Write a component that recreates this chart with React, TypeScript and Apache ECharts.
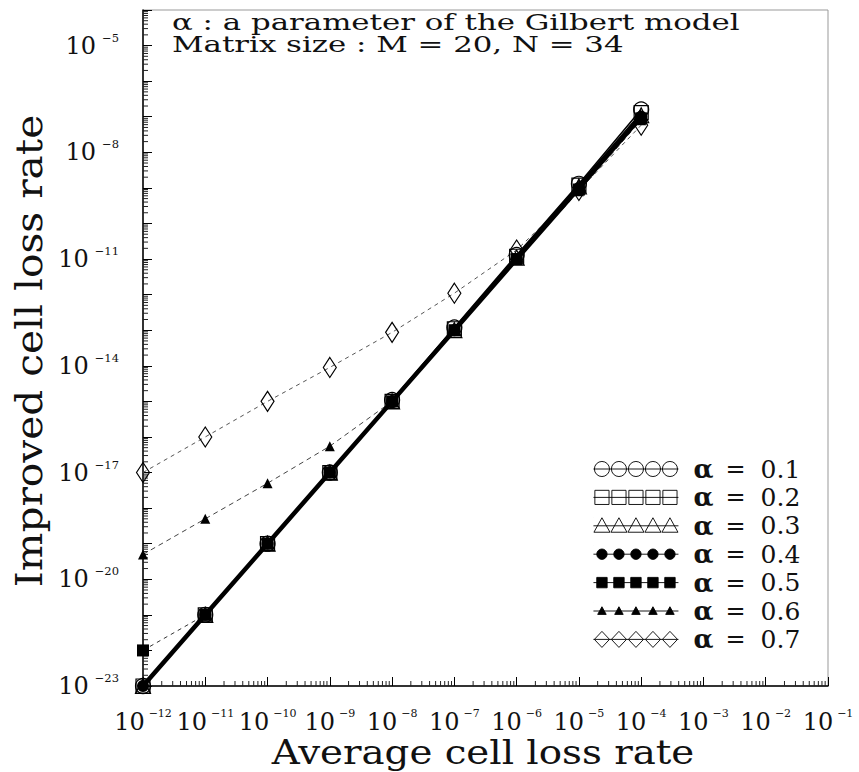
import React, { useEffect, useRef } from 'react';
import * as echarts from 'echarts';

// ---------- data ----------
const xValues = [1e-12, 1e-11, 1e-10, 1e-9, 1e-8, 1e-7, 1e-6, 1e-5, 1e-4];
const alpha01 = [1e-23, 1e-21, 1e-19, 1e-17, 1.1e-15, 1.2e-13, 1.3e-11, 1.3e-9, 1.6e-7];
const alpha02 = [1e-23, 1e-21, 1e-19, 1e-17, 1e-15, 1.1e-13, 1.2e-11, 1.2e-9, 1.3e-7];
const alpha03 = [1e-23, 1e-21, 1e-19, 1e-17, 1e-15, 1e-13, 1.1e-11, 1.1e-9, 1.1e-7];
const alpha04 = [1e-23, 1e-21, 1e-19, 1e-17, 1e-15, 1e-13, 1e-11, 1e-9, 1e-7];
const alpha05 = [1e-22, 1e-21, 1e-19, 1e-17, 1e-15, 1e-13, 1e-11, 9e-10, 9e-8];
const alpha06 = [5e-20, 5e-19, 5e-18, 5.5e-17, 1e-15, 1e-13, 1e-11, 8e-10, 8e-8];
const alpha07 = [1e-17, 1e-16, 1e-15, 9e-15, 8.7e-14, 1.1e-12, 1.8e-11, 8.5e-10, 5.8e-8];

const alphaLabels = ['0.1', '0.2', '0.3', '0.4', '0.5', '0.6', '0.7'];
const seriesValues = [alpha01, alpha02, alpha03, alpha04, alpha05, alpha06, alpha07];

// tick labels (powers of ten)
const yLabelExponents = [-23, -20, -17, -14, -11, -8, -5];
const xLabelExponents = [-12, -11, -10, -9, -8, -7, -6, -5, -4, -3, -2, -1];
const yDecadeRange = [-23, -4];
const xDecadeRange = [-12, -1];

const annotationLines = [
  'α : a parameter of the Gilbert model',
  'Matrix size : M = 20, N = 34',
];
const xTitle = 'Average cell loss rate';
const yTitle = 'Improved cell loss rate';

// ---------- styles ----------
const FONT = '"DejaVu Serif", serif';
const OPEN = 'rgba(255,255,255,0)';

type Sty = {
  symbol: string;
  size: number | number[];
  filled: boolean;
  lineWidth: number;
  lineType: any;
  lineColor: string;
  z: number;
};
const styles: Sty[] = [
  { symbol: 'circle', size: 15, filled: false, lineWidth: 1.5, lineType: 'solid', lineColor: '#000', z: 3 },
  { symbol: 'rect', size: 14, filled: false, lineWidth: 1.5, lineType: 'solid', lineColor: '#000', z: 3 },
  { symbol: 'triangle', size: 15, filled: false, lineWidth: 1.5, lineType: 'solid', lineColor: '#000', z: 3 },
  { symbol: 'circle', size: 12, filled: true, lineWidth: 4.5, lineType: 'solid', lineColor: '#000', z: 3 },
  { symbol: 'rect', size: 12, filled: true, lineWidth: 1, lineType: [4, 4], lineColor: '#333', z: 2 },
  { symbol: 'triangle', size: 10, filled: true, lineWidth: 1, lineType: [5, 4], lineColor: '#444', z: 2 },
  { symbol: 'diamond', size: [13, 20], filled: false, lineWidth: 1, lineType: [4, 4], lineColor: '#555', z: 2 },
];

// legend icons: five markers on a thin line, box 90 x 18
const centers = [9, 27, 45, 63, 81];
const anchor = 'M0 0 L0.01 0 M90 18 L89.99 18 ';
const line = 'M0 9 L90 9 ';
const circ = (r: number) =>
  centers.map((c) => `M${c - r} 9 A${r} ${r} 0 1 0 ${c + r} 9 A${r} ${r} 0 1 0 ${c - r} 9 Z`).join(' ');
const sq = (h: number) =>
  centers.map((c) => `M${c - h} ${9 - h} L${c + h} ${9 - h} L${c + h} ${9 + h} L${c - h} ${9 + h} Z`).join(' ');
const tri = (h: number) =>
  centers.map((c) => `M${c} ${9 - h} L${c + h} ${9 + h * 0.8} L${c - h} ${9 + h * 0.8} Z`).join(' ');
const dia = () =>
  centers.map((c) => `M${c} 0.5 L${c + 8} 9 L${c} 17.5 L${c - 8} 9 Z`).join(' ');
const legendIcons = [
  'path://' + anchor + circ(8) + ' ' + line,
  'path://' + anchor + sq(7.5) + ' ' + line,
  'path://' + anchor + tri(8.5) + ' ' + line,
  'path://' + anchor + circ(5.5) + ' ' + line,
  'path://' + anchor + sq(5.5) + ' ' + line,
  'path://' + anchor + tri(4.5) + ' ' + line,
  'path://' + anchor + dia() + ' ' + line,
];

const decades = (r: number[]) => {
  const out: number[] = [];
  for (let e = r[0]; e <= r[1]; e++) out.push(Math.pow(10, e));
  return out;
};

export default function App() {
  const ref = useRef<HTMLDivElement>(null);

  useEffect(() => {
    if (!ref.current) return;
    const chart = echarts.init(ref.current, null, { renderer: 'svg' });

    const names = alphaLabels.map((a) => `α = ${a}`);

    const mainSeries = seriesValues.map((vals, i) => {
      const s = styles[i];
      return {
        name: names[i],
        type: 'line',
        data: xValues.map((x, j) => [x, vals[j]]),
        symbol: s.symbol,
        symbolSize: s.size,
        showSymbol: true,
        clip: false,
        z: s.z,
        lineStyle: { color: s.lineColor, width: s.lineWidth, type: s.lineType },
        itemStyle: {
          color: s.filled ? '#000' : OPEN,
          borderColor: '#000',
          borderWidth: s.filled ? 0 : 1.2,
        },
        emphasis: { disabled: true },
      };
    });

    // logarithmic minor ticks (2..9 within every decade)
    const tickData: number[][] = [];
    for (let e = yDecadeRange[0]; e < yDecadeRange[1]; e++) {
      for (let m = 2; m <= 9; m++) tickData.push([1e-12, m * Math.pow(10, e), 0]);
    }
    for (let e = xDecadeRange[0]; e < xDecadeRange[1]; e++) {
      for (let m = 2; m <= 9; m++) tickData.push([m * Math.pow(10, e), 1e-23, 1]);
    }

    const tickSeries = {
      type: 'custom',
      silent: true,
      clip: false,
      z: 1,
      data: tickData,
      encode: { x: 0, y: 1 },
      renderItem: (_p: any, api: any) => {
        const pt = api.coord([api.value(0), api.value(1)]);
        const dir = api.value(2);
        return {
          type: 'line',
          shape: {
            x1: pt[0],
            y1: pt[1],
            x2: dir === 0 ? pt[0] + 5 : pt[0],
            y2: dir === 1 ? pt[1] - 5 : pt[1],
          },
          style: { stroke: '#222', lineWidth: 1 },
        };
      },
    };

    const supRich = (gap: number, big: number, small: number) => ({
      b: { fontFamily: FONT, fontSize: big, lineHeight: 28, color: '#111' },
      s: {
        fontFamily: FONT,
        fontSize: small,
        lineHeight: 14,
        verticalAlign: 'top',
        color: '#111',
        padding: [0, 0, 0, gap],
      },
    });
    const powLabel = (v: number) => `{b|10}{s|−${Math.abs(Math.round(Math.log10(v)))}}`;

    const option: any = {
      animation: false,
      backgroundColor: '#fff',
      grid: {
        left: 143,
        right: 31,
        top: 10,
        bottom: 86,
        containLabel: false,
        outerBoundsMode: 'none',
        show: true,
        borderColor: '#999',
        borderWidth: 1,
      },
      xAxis: {
        type: 'log',
        logBase: 10,
        min: 1e-12,
        max: 1e-1,
        axisLine: { lineStyle: { color: '#000', width: 1.5 } },
        axisTick: {
          inside: true,
          length: 9,
          lineStyle: { color: '#000' },
          customValues: decades(xDecadeRange),
        },
        splitLine: { show: false },
        axisLabel: {
          margin: 22,
          showMinLabel: true,
          showMaxLabel: true,
          customValues: xLabelExponents.map((e) => Math.pow(10, e)),
          formatter: powLabel,
          rich: supRich(4, 24, 11),
        },
      },
      yAxis: {
        type: 'log',
        logBase: 10,
        min: 1e-23,
        max: 1e-4,
        axisLine: { lineStyle: { color: '#000', width: 1.5 } },
        axisTick: {
          inside: true,
          length: 9,
          lineStyle: { color: '#000' },
          customValues: decades(yDecadeRange),
        },
        splitLine: { show: false },
        axisLabel: {
          margin: 24,
          showMinLabel: true,
          showMaxLabel: true,
          customValues: yLabelExponents.map((e) => Math.pow(10, e)),
          formatter: powLabel,
          rich: supRich(6, 24, 11.5),
        },
      },
      legend: {
        orient: 'vertical',
        left: 588,
        top: 451,
        itemWidth: 85,
        itemHeight: 17,
        itemGap: 2.4,
        selectedMode: false,
        data: names.map((n, i) => ({
          name: n,
          icon: legendIcons[i],
          itemStyle: {
            color: styles[i].filled ? '#000' : '#fff',
            borderColor: '#000',
            borderWidth: 0.9,
          },
        })),
        formatter: (n: string) => `{a|α}{e|=}{v|${n.split('= ')[1]}}`,
        textStyle: {
          fontFamily: FONT,
          fontSize: 24,
          lineHeight: 20,
          color: '#111',
          rich: {
            a: { fontFamily: FONT, fontSize: 26, fontWeight: 'bold', lineHeight: 20, padding: [0, 0, 0, 10] },
            e: { fontFamily: FONT, fontSize: 24, lineHeight: 20, padding: [0, 0, 0, 12] },
            v: { fontFamily: FONT, fontSize: 25, lineHeight: 20, padding: [0, 0, 0, 15] },
          },
        },
      },
      graphic: [
        ...annotationLines.map((t, i) => ({
          type: 'text',
          left: 172,
          top: 10 + i * 22,
          scaleX: 1.34,
          style: { text: t, font: `23px ${FONT}`, fill: '#111' },
          z: 10,
        })),
        {
          type: 'text',
          x: 483,
          y: 752,
          scaleX: 1.14,
          style: {
            text: xTitle,
            font: `34px ${FONT}`,
            fill: '#111',
            textAlign: 'center',
            textVerticalAlign: 'middle',
          },
        },
        {
          type: 'text',
          x: 28,
          y: 351,
          rotation: Math.PI / 2,
          scaleX: 1.07,
          style: {
            text: yTitle,
            font: `38px ${FONT}`,
            fill: '#111',
            textAlign: 'center',
            textVerticalAlign: 'middle',
          },
        },
      ],
      series: [tickSeries, ...mainSeries],
    };

    chart.setOption(option);
    return () => chart.dispose();
  }, []);

  return (
    <div
      ref={ref}
      style={{ position: 'fixed', left: 0, top: 0, width: 859, height: 772, background: '#fff' }}
    />
  );
}
